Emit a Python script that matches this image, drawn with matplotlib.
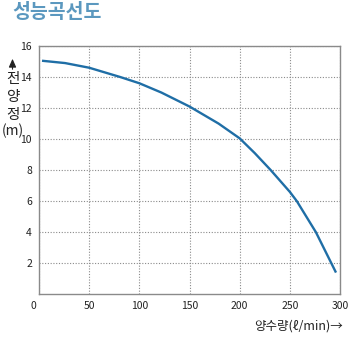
import matplotlib
matplotlib.use("Agg")
import matplotlib.pyplot as plt
from matplotlib.patches import FancyArrowPatch
from matplotlib.transforms import ScaledTranslation

plt.rcParams['font.family'] = ['Noto Sans CJK KR', 'DejaVu Sans']

# Pump performance curve: flow (l/min) vs total head (m)
flow = [3, 26, 50, 81, 100, 122, 150, 179, 200, 215, 231, 250, 257, 276, 296]
head = [15.05, 14.9, 14.6, 14.0, 13.6, 13.0, 12.1, 11.0, 10.05, 9.1, 8.0, 6.6, 6.0, 4.0, 1.4]

x_ticks = [0, 50, 100, 150, 200, 250, 300]
y_ticks = [2, 4, 6, 8, 10, 12, 14, 16]

title = "성능곡선도"
x_label = "양수량(ℓ/min)→"
y_label_parts = ["전", "양", "정", "(m)"]

W, H = 355, 338
fig = plt.figure(figsize=(W / 100, H / 100), dpi=100)
ax = fig.add_axes([39 / W, 1 - 294.3 / H, 301 / W, 248.3 / H])

ax.plot(flow, head, color="#1f6ea6", lw=1.7, solid_capstyle="butt", zorder=3)

ax.set_xlim(0, 300)
ax.set_ylim(0, 16)
ax.set_xticks(x_ticks)
ax.set_yticks(y_ticks)
ax.tick_params(length=0, labelsize=7.5, colors="#222222", pad=5)
ax.set_xticklabels([str(v) for v in x_ticks])
ax.set_yticklabels([str(v) for v in y_ticks])
# the shared origin label sits just left of the corner
ax.get_xticklabels()[0].set_transform(
    ax.get_xticklabels()[0].get_transform() + ScaledTranslation(-6 / 100, 0, fig.dpi_scale_trans))

ax.grid(True, color="#8a8a8a", linestyle=(0, (1, 1.5)), linewidth=0.8)
ax.set_axisbelow(True)
for s in ax.spines.values():
    s.set_color("#8a8a8a")
    s.set_linewidth(1.0)

fig.text(12 / W, 1 - 13 / H, title, color="#5b98bf", fontsize=14, fontweight="bold",
         ha="left", va="center")
fig.text(343 / W, 1 - 326 / H, x_label, fontsize=9, color="#222222", ha="right", va="center")

# vertical y-axis caption: upward arrow, then one glyph per row
fig.add_artist(FancyArrowPatch(
    (12.5 / W, 1 - 72 / H), (12.5 / W, 1 - 56 / H), transform=fig.transFigure,
    arrowstyle="-|>,head_length=5,head_width=2.2", color="#222222", lw=0.8,
    mutation_scale=1))
for part, yc in zip(y_label_parts, [79, 97, 115, 131]):
    fig.text(12.5 / W, 1 - yc / H, part, fontsize=10.5 if part != "(m)" else 10,
             color="#222222", ha="center", va="center")

fig.savefig("out.png", dpi=100)
